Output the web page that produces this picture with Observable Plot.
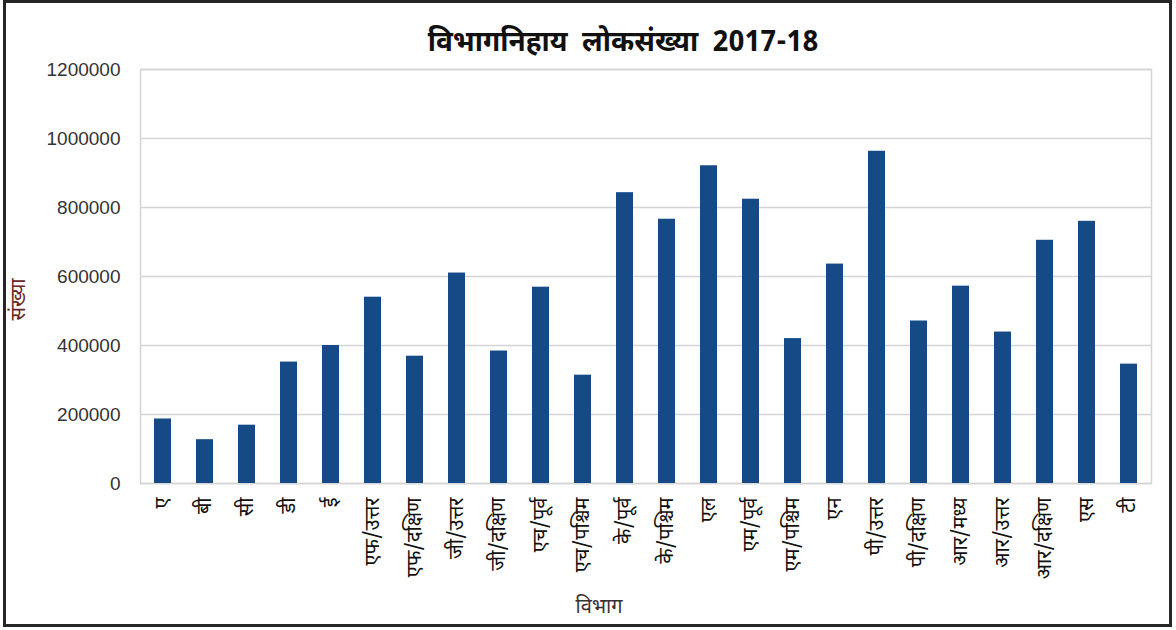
<!DOCTYPE html>
<html>
<head>
<meta charset="utf-8">
<script src="https://cdn.jsdelivr.net/npm/d3@7"></script>
<script src="https://cdn.jsdelivr.net/npm/@observablehq/plot@0.6"></script>
<style>
  html, body { margin: 0; padding: 0; background: #fff; }
  #wrap { position: relative; width: 1176px; height: 630px; overflow: hidden; }
  #border { position: absolute; left: 3px; top: 0px; width: 1163px; height: 621px; border: 3px solid #262626; pointer-events: none; }
  svg { font-family: "Noto Sans Devanagari", "Lohit Devanagari", "Liberation Sans", "Noto Sans", sans-serif; }
</style>
</head>
<body>
<div id="wrap"><div id="border"></div></div>
<script>
const title = "विभागनिहाय  लोकसंख्या  2017-18";
const xLabel = "विभाग";
const yLabel = "संख्या";
const wards = ["ए", "बी", "सी", "डी", "ई", "एफ/उत्तर", "एफ/दक्षिण", "जी/उत्तर", "जी/दक्षिण", "एच/पूर्व", "एच/पश्चिम", "के/पूर्व", "के/पश्चिम", "एल", "एम/पूर्व", "एम/पश्चिम", "एन", "पी/उत्तर", "पी/दक्षिण", "आर/मध्य", "आर/उत्तर", "आर/दक्षिण", "एस", "टी"];
const population = [187000, 127000, 169000, 352000, 400000, 540000, 369000, 610000, 384000, 569000, 314000, 843000, 766000, 921000, 824000, 420000, 636000, 963000, 471000, 572000, 439000, 705000, 760000, 346000];
const yTicks = [0, 200000, 400000, 600000, 800000, 1000000, 1200000];

const data = wards.map((w, i) => ({ward: w, value: population[i]}));

const chart = Plot.plot({
  width: 1176,
  height: 630,
  marginLeft: 140,
  marginRight: 25,
  marginTop: 69,
  marginBottom: 147,
  style: { background: "transparent", overflow: "visible" },
  x: { type: "band", domain: wards, paddingInner: 0.6, paddingOuter: 0.3, label: null },
  y: { domain: [0, 1200000], label: null },
  marks: [
    Plot.gridY(yTicks, { stroke: "#d4d4d4", strokeOpacity: 1, strokeWidth: 1.5 }),
    Plot.frame({ stroke: "#d4d4d4", strokeWidth: 1.5 }),
    Plot.barY(data, { x: "ward", y: "value", fill: "#154a86" }),
    Plot.axisY(yTicks, { tickSize: 0, tickPadding: 20, fontSize: 19, fill: "#333", tickFormat: d3.format("d"), label: null, fontFamily: "'Liberation Sans', Arial, sans-serif" }),
    Plot.axisX({ tickSize: 0, tickPadding: 14, tickRotate: -90, fontSize: 20, fill: "#111", label: null }),
    Plot.text([title], { text: d => d, frameAnchor: "top", dy: -38, dx: -23, fontSize: 28, fontWeight: "bold", fill: "#111" }),
    Plot.text([xLabel], { text: d => d, frameAnchor: "bottom", dy: 129, dx: -47, fontSize: 20, fill: "#3a3030" }),
    Plot.text([yLabel], { text: d => d, frameAnchor: "left", dx: -122, dy: 44, rotate: -90, fontSize: 20, fill: "#6b2424" })
  ]
});
document.getElementById("wrap").insertBefore(chart, document.getElementById("border"));
</script>
</body>
</html>
